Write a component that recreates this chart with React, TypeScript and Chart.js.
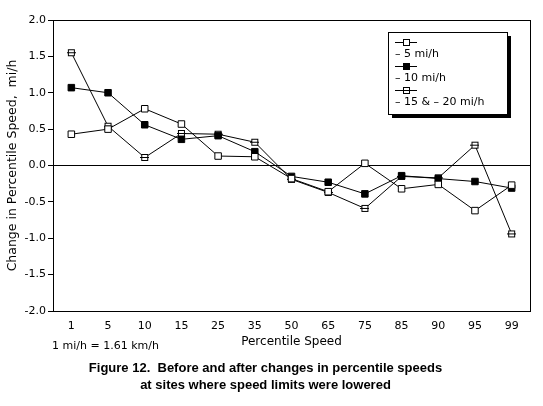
import React, { useEffect, useRef } from "react";
import { Chart, registerables } from "chart.js";

Chart.register(...registerables);

// ---------- data ----------
const percentiles = ["1", "5", "10", "15", "25", "35", "50", "65", "75", "85", "90", "95", "99"];
const change5 = [0.43, 0.5, 0.78, 0.57, 0.13, 0.12, -0.18, -0.36, 0.03, -0.32, -0.26, -0.62, -0.27];
const change10 = [1.07, 1.0, 0.56, 0.36, 0.41, 0.19, -0.15, -0.23, -0.39, -0.14, -0.18, -0.22, -0.31];
const change15to20 = [1.55, 0.54, 0.11, 0.44, 0.43, 0.32, -0.19, -0.37, -0.59, -0.15, -0.17, 0.28, -0.94];
const seriesLabels = ["– 5 mi/h", "– 10 mi/h", "– 15 & – 20 mi/h"];
const yMin = -2.0;
const yMax = 2.0;
const yStep = 0.5;
const xTitle = "Percentile Speed";
const yTitle = "Change in Percentile Speed,  mi/h";
const noteText = "1 mi/h = 1.61 km/h";
const captionLines = [
  "Figure 12.  Before and after changes in percentile speeds",
  "at sites where speed limits were lowered",
];

const FONT = "'DejaVu Sans', sans-serif";

function makeBarredSquare(): HTMLCanvasElement {
  const c = document.createElement("canvas");
  c.width = 9;
  c.height = 9;
  const g = c.getContext("2d")!;
  g.fillStyle = "#fff";
  g.fillRect(1, 1, 7, 7);
  g.strokeStyle = "#000";
  g.lineWidth = 1;
  g.strokeRect(1.5, 1.5, 6, 6);
  g.beginPath();
  g.moveTo(0, 4.5);
  g.lineTo(9, 4.5);
  g.stroke();
  return c;
}

const framePlugin = {
  id: "frame",
  beforeDatasetsDraw(chart: any) {
    const { ctx, chartArea } = chart;
    ctx.save();
    ctx.strokeStyle = "#000";
    ctx.lineWidth = 1;
    ctx.strokeRect(
      Math.round(chartArea.left) + 0.5,
      Math.round(chartArea.top) + 0.5,
      Math.round(chartArea.right - chartArea.left),
      Math.round(chartArea.bottom - chartArea.top)
    );
    ctx.restore();
  },
};

const boxLegendPlugin = {
  id: "boxLegend",
  afterDraw(chart: any) {
    const { ctx, chartArea } = chart;
    const bx = Math.round(chartArea.right - 142);
    const by = Math.round(chartArea.top + 12);
    const bw = 119;
    const bh = 82;
    ctx.save();
    ctx.fillStyle = "#000";
    ctx.fillRect(bx + 4, by + 4, bw, bh);
    ctx.fillStyle = "#fff";
    ctx.fillRect(bx, by, bw, bh);
    ctx.strokeStyle = "#000";
    ctx.lineWidth = 1;
    ctx.strokeRect(bx + 0.5, by + 0.5, bw, bh);
    chart.data.datasets.forEach((ds: any, i: number) => {
      const sy = by + 10 + i * 24;
      const x0 = bx + 7;
      const x1 = bx + 29;
      const cx = (x0 + x1) / 2;
      ctx.strokeStyle = "#000";
      ctx.lineWidth = 1;
      ctx.beginPath();
      ctx.moveTo(x0, sy + 0.5);
      ctx.lineTo(x1, sy + 0.5);
      ctx.stroke();
      if (ds.pointStyle instanceof HTMLCanvasElement) {
        ctx.drawImage(ds.pointStyle, Math.round(cx - 4.5), Math.round(sy - 4));
      } else {
        ctx.fillStyle = ds.pointBackgroundColor;
        ctx.fillRect(Math.round(cx - 3), Math.round(sy - 3), 7, 7);
        ctx.strokeRect(Math.round(cx - 3) + 0.5, Math.round(sy - 3) + 0.5, 6, 6);
      }
      ctx.fillStyle = "#000";
      ctx.font = `11px ${FONT}`;
      ctx.textBaseline = "middle";
      ctx.textAlign = "left";
      ctx.fillText(ds.label, x0, sy + 12);
    });
    ctx.restore();
  },
};

export default function App() {
  const canvasRef = useRef<HTMLCanvasElement | null>(null);

  useEffect(() => {
    if (!canvasRef.current) return;
    const barred = makeBarredSquare();
    const chart = new Chart(canvasRef.current, {
      type: "line",
      data: {
        labels: percentiles,
        datasets: [
          {
            label: seriesLabels[0],
            data: change5,
            borderColor: "#000",
            borderWidth: 1,
            pointStyle: "rect",
            pointRadius: 4.6,
            pointBackgroundColor: "#fff",
            pointBorderColor: "#000",
            pointBorderWidth: 1,
            tension: 0,
          },
          {
            label: seriesLabels[1],
            data: change10,
            borderColor: "#000",
            borderWidth: 1,
            pointStyle: "rect",
            pointRadius: 4.6,
            pointBackgroundColor: "#000",
            pointBorderColor: "#000",
            pointBorderWidth: 1,
            tension: 0,
          },
          {
            label: seriesLabels[2],
            data: change15to20,
            borderColor: "#000",
            borderWidth: 1,
            pointStyle: barred as any,
            pointRadius: 4.5,
            tension: 0,
          },
        ],
      },
      options: {
        responsive: false,
        animation: false,
        devicePixelRatio: 1,
        layout: { padding: { top: 20, right: 13, left: 0, bottom: 0 } },
        plugins: {
          legend: { display: false },
          tooltip: { enabled: false },
          title: { display: false },
        },
        scales: {
          x: {
            type: "category",
            offset: true,
            grid: { display: false },
            border: { display: false },
            ticks: {
              color: "#000",
              font: { family: FONT, size: 11 },
              padding: 1,
              maxRotation: 0,
              autoSkip: false,
            },
            title: {
              display: true,
              text: xTitle,
              color: "#000",
              font: { family: FONT, size: 12 },
              padding: { top: 0, bottom: 57 },
            },
            afterFit: (scale: any) => {
              scale.height = 95;
            },
          },
          y: {
            min: yMin,
            max: yMax,
            border: { display: false },
            grid: {
              drawOnChartArea: true,
              color: (c: any) => (c.tick && c.tick.value === 0 ? "#000" : "rgba(0,0,0,0)"),
              tickColor: "#000",
              tickLength: 5,
              lineWidth: 1,
            },
            ticks: {
              stepSize: yStep,
              color: "#000",
              font: { family: FONT, size: 11 },
              padding: 2,
              callback: (v: any) => Number(v).toFixed(1),
            },
            title: {
              display: true,
              text: yTitle,
              color: "#000",
              font: { family: FONT, size: 12.5 },
              padding: { top: 5, bottom: 0 },
            },
            afterFit: (scale: any) => {
              scale.width = 53;
            },
          },
        },
      },
      plugins: [framePlugin, boxLegendPlugin],
    });
    return () => chart.destroy();
  }, []);

  return (
    <div
      style={{
        position: "fixed",
        left: 0,
        top: 0,
        width: 543,
        height: 406,
        background: "#fff",
        overflow: "hidden",
      }}
    >
      <canvas ref={canvasRef} width={543} height={406} style={{ width: 543, height: 406, display: "block" }} />
      <div
        style={{
          position: "absolute",
          left: 52,
          top: 339,
          font: `11px ${FONT}`,
          color: "#000",
          whiteSpace: "pre",
        }}
      >
        {noteText}
      </div>
      <div
        style={{
          position: "absolute",
          left: 0,
          width: 531,
          top: 359,
          textAlign: "center",
          font: "bold 13px 'Liberation Sans', Arial, sans-serif",
          lineHeight: "17px",
          color: "#000",
          whiteSpace: "pre",
        }}
      >
        {captionLines.map((l, i) => (
          <div key={i}>{l}</div>
        ))}
      </div>
    </div>
  );
}
